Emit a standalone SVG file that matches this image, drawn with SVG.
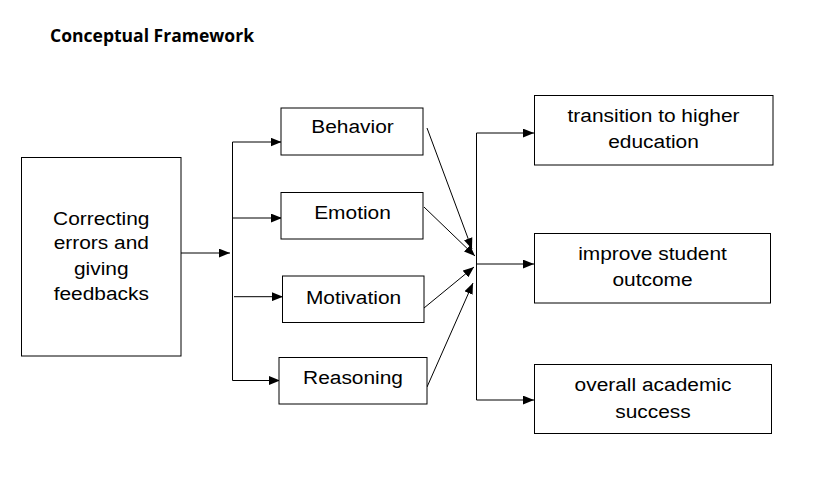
<svg xmlns="http://www.w3.org/2000/svg" width="835" height="491" viewBox="0 0 835 491">
<defs>
<marker id="ah" markerUnits="userSpaceOnUse" markerWidth="11" markerHeight="9" refX="10" refY="4" orient="auto" viewBox="0 0 10 8">
<path d="M0,0 L10,4 L0,8 z" fill="#000"/>
</marker>
</defs>
<style>
.box{fill:#fff;stroke:#000;stroke-width:1}
.t{font-family:"Liberation Sans",Arial,sans-serif;font-size:19px;fill:#000;text-anchor:middle}
.c{fill:none;stroke:#000;stroke-width:1}
.a{fill:none;stroke:#000;stroke-width:1;marker-end:url(#ah)}
</style>
<rect width="835" height="491" fill="#fff"/>
<text x="50" y="41.5" font-family="'Open Sans',sans-serif" font-weight="bold" font-size="17.5" textLength="204" lengthAdjust="spacingAndGlyphs">Conceptual Framework</text>
<g id="connectors">
<path class="a" d="M181,253 H230"/>
<path class="c" d="M232.5,142 V380.5"/>
<path class="a" d="M232.5,142 H281.5"/>
<path class="a" d="M233,218 H282"/>
<path class="a" d="M234,296.7 H283"/>
<path class="a" d="M232.5,380.5 H280"/>
<path class="a" d="M427,128 L472,249"/>
<path class="a" d="M424,207 L475,256"/>
<path class="a" d="M424,308 L474,267"/>
<path class="a" d="M427,387 L473,283"/>
<path class="c" d="M476.5,133 V400"/>
<path class="a" d="M476.5,133 H534"/>
<path class="a" d="M477,264 H534"/>
<path class="a" d="M476.5,400 H534"/>
</g>
<g id="source">
<rect class="box" x="21.5" y="157.5" width="159.5" height="198.5"/>
<text class="t" transform="translate(101.3,224.5) scale(1.1,1)">Correcting</text>
<text class="t" transform="translate(101.3,249) scale(1.1,1)">errors and</text>
<text class="t" transform="translate(101.3,274.5) scale(1.1,1)">giving</text>
<text class="t" transform="translate(101.3,300) scale(1.1,1)">feedbacks</text>
</g>
<g id="behavior">
<rect class="box" x="281" y="108" width="142" height="47"/>
<text class="t" transform="translate(352.5,133) scale(1.1,1)">Behavior</text>
</g>
<g id="emotion">
<rect class="box" x="281" y="192.5" width="142" height="46.5"/>
<text class="t" transform="translate(352.5,218.5) scale(1.1,1)">Emotion</text>
</g>
<g id="motivation">
<rect class="box" x="282.5" y="276" width="141.5" height="46.5"/>
<text class="t" transform="translate(353.5,303.5) scale(1.1,1)">Motivation</text>
</g>
<g id="reasoning">
<rect class="box" x="279" y="357.5" width="148" height="46.5"/>
<text class="t" transform="translate(353,384) scale(1.1,1)">Reasoning</text>
</g>
<g id="transition">
<rect class="box" x="534.5" y="95.5" width="238.5" height="69.5"/>
<text class="t" transform="translate(653.5,122) scale(1.1,1)">transition to higher</text>
<text class="t" transform="translate(653.5,148) scale(1.1,1)">education</text>
</g>
<g id="outcome">
<rect class="box" x="534.5" y="233.5" width="236" height="69.5"/>
<text class="t" transform="translate(652.5,259.7) scale(1.1,1)">improve student</text>
<text class="t" transform="translate(652.5,286.4) scale(1.1,1)">outcome</text>
</g>
<g id="success">
<rect class="box" x="534.5" y="364.5" width="237" height="69"/>
<text class="t" transform="translate(653,391.4) scale(1.1,1)">overall academic</text>
<text class="t" transform="translate(653,418) scale(1.1,1)">success</text>
</g>
</svg>
